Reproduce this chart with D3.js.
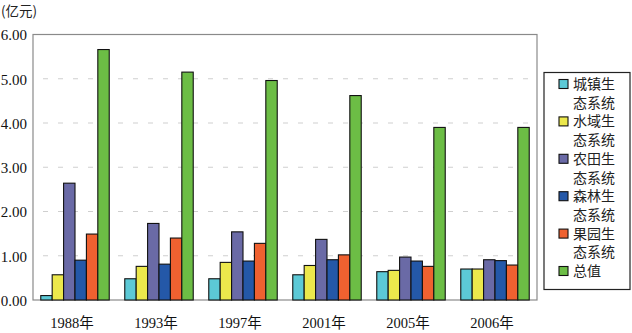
<!DOCTYPE html>
<html><head><meta charset="utf-8">
<script src="https://cdn.jsdelivr.net/npm/d3@7"></script>
<style>
html,body{margin:0;padding:0;background:#fff;}
svg{display:block;}
</style></head>
<body>
<script>
const years = ["1988年","1993年","1997年","2001年","2005年","2006年"];
const seriesNames = ["城镇生态系统","水域生态系统","农田生态系统","森林生态系统","果园生态系统","总值"];
const legendLines = [["城镇生","态系统"],["水域生","态系统"],["农田生","态系统"],["森林生","态系统"],["果园生","态系统"],["总值"]];
const urban   = [0.10, 0.48, 0.48, 0.57, 0.64, 0.70];
const water   = [0.57, 0.76, 0.85, 0.78, 0.67, 0.70];
const farm    = [2.64, 1.73, 1.54, 1.37, 0.97, 0.91];
const forest  = [0.90, 0.81, 0.88, 0.91, 0.88, 0.89];
const orchard = [1.49, 1.40, 1.28, 1.02, 0.76, 0.79];
const total   = [5.66, 5.15, 4.96, 4.62, 3.90, 3.90];
const yTicks = [0,1,2,3,4,5,6];
const colors = ["#5cc9d6","#ece84c","#6a6aa6","#2458a8","#ef6130","#6cbd45"];

const seriesValues = [urban, water, farm, forest, orchard, total];

const W = 632, H = 333;
const svg = d3.select("body").append("svg").attr("width", W).attr("height", H);

const plot = {left: 33, right: 537, top: 34.5, bottom: 300};

const x0 = d3.scaleBand().domain(years).range([plot.left, plot.right])
  .paddingInner(0.185).paddingOuter(0.0925);
const x1 = d3.scaleBand().domain(seriesNames).range([0, x0.bandwidth()]).padding(0);
const y = d3.scaleLinear().domain([0, 6]).range([plot.bottom, plot.top]);

// gridlines
svg.append("g").selectAll("line").data(yTicks.filter(d => d > 0 && d < 6)).join("line")
  .attr("x1", plot.left + 10).attr("x2", plot.right - 2)
  .attr("y1", d => y(d)).attr("y2", d => y(d))
  .attr("stroke", "#cfcfcf").attr("stroke-width", 1)
  .attr("stroke-dasharray", "5,10");

// frame
svg.append("rect").attr("x", plot.left).attr("y", plot.top)
  .attr("width", plot.right - plot.left).attr("height", plot.bottom - plot.top)
  .attr("fill", "none").attr("stroke", "#8a8a8a").attr("stroke-width", 1.2);

// y axis labels
const yAxis = d3.axisLeft(y).tickValues(yTicks).tickSize(0).tickPadding(6)
  .tickFormat(d3.format(".2f"));
const ya = svg.append("g").attr("transform", `translate(${plot.left},0)`).call(yAxis);
ya.select(".domain").remove();
ya.selectAll("text").attr("font-family", "Liberation Serif, serif").attr("font-size", 15)
  .attr("fill", "#111").attr("dy", "0.35em");

// x axis labels
const xAxis = d3.axisBottom(x0).tickSize(0).tickPadding(18);
const xa = svg.append("g").attr("transform", `translate(-3,${plot.bottom})`).call(xAxis);
xa.select(".domain").remove();
xa.selectAll("text").attr("font-family", "Liberation Serif, 'Noto Sans CJK SC', serif")
  .attr("font-size", 14.5).attr("fill", "#111");

// bars
const groups = svg.append("g").selectAll("g").data(years).join("g")
  .attr("transform", d => `translate(${x0(d)},0)`);
groups.selectAll("rect").data((d, i) => seriesNames.map((s, j) => ({s, v: seriesValues[j][i], c: colors[j]})))
  .join("rect")
  .attr("x", d => x1(d.s)).attr("width", x1.bandwidth())
  .attr("y", d => y(d.v)).attr("height", d => y(0) - y(d.v))
  .attr("fill", d => d.c).attr("stroke", "#111").attr("stroke-width", 1.1);

// y unit label
svg.append("text").attr("x", 1).attr("y", 16).text("(亿元)")
  .attr("font-family", "'Noto Sans CJK SC', sans-serif").attr("font-size", 13.5).attr("fill", "#222");

// legend
const lg = svg.append("g");
lg.append("rect").attr("x", 544).attr("y", 72.5).attr("width", 86).attr("height", 217)
  .attr("fill", "#fff").attr("stroke", "#222").attr("stroke-width", 1.2);
let line = 0;
const lh = 18.7, ly0 = 84;
legendLines.forEach((lines, i) => {
  const cy = ly0 + line * lh;
  lg.append("rect").attr("x", 559).attr("y", cy - 4.5).attr("width", 9).attr("height", 9)
    .attr("fill", colors[i]).attr("stroke", "#111").attr("stroke-width", 1.1);
  lines.forEach((t, k) => {
    lg.append("text").attr("x", 573).attr("y", cy + k * lh).attr("dy", "0.36em").text(t)
      .attr("font-family", "'Noto Sans CJK SC', sans-serif").attr("font-size", 14)
      .attr("fill", "#222");
  });
  line += lines.length;
});
</script>
</body></html>
